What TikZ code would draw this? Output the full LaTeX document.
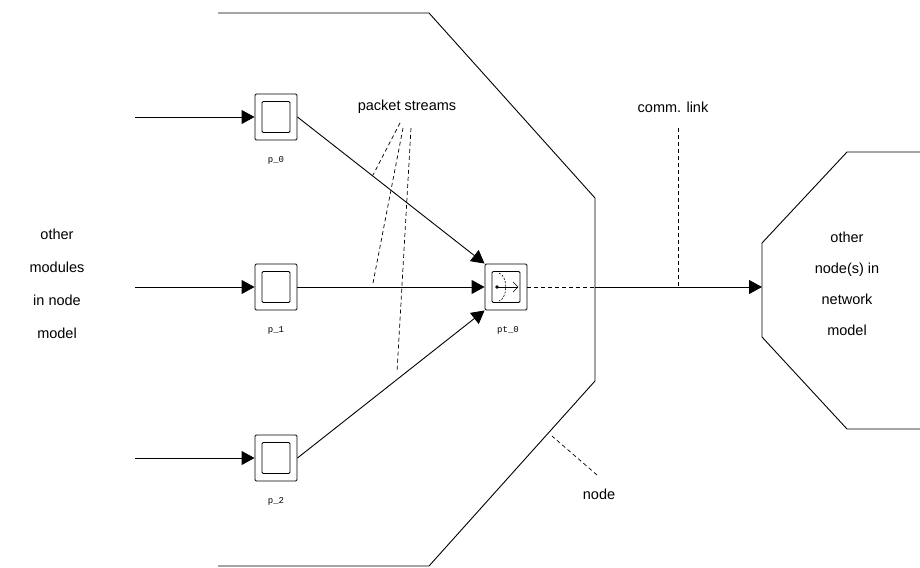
\documentclass[tikz,border=0pt]{standalone}
\usepackage{fontspec}
\setmainfont{Liberation Sans}
\setmonofont{Liberation Mono}
\usetikzlibrary{arrows.meta}
\tikzset{
  modbox/.style={draw,line width=0.9pt,rounded corners=1.2pt,minimum width=42pt,minimum height=46pt,inner sep=0pt},
  modinner/.style={draw,line width=0.9pt,rounded corners=1.2pt,minimum width=28pt,minimum height=31pt,inner sep=0pt},
  modlabel/.style={font=\ttfamily\fontsize{9}{9}\selectfont,inner sep=0pt},
  txt/.style={font=\fontsize{14.5}{14.5}\selectfont,inner sep=0pt},
  stream/.style={-{Triangle[length=13pt,width=14pt]},line width=0.9pt},
  hint/.style={dashed,dash pattern=on 4pt off 3pt,line width=0.7pt}
}
\begin{document}
\begin{tikzpicture}[x=1pt,y=-1pt]
        \useasboundingbox (0,0) rectangle (920,567);

        % node outlines
        \draw [line width=0.9pt] (218,13) -- (429,13) -- (595,198) -- (595,381) -- (429,566) -- (218,566);
        \draw [line width=0.9pt] (920,152) -- (847,152) -- (762,243) -- (762,337) -- (847,429) -- (920,429);

        % modules
        \node [modbox] (p0) at (276,117) {};
        \node [modinner] (p0in) at (276,117) {};
        \node [modbox] (p1) at (276,287) {};
        \node [modinner] (p1in) at (276,287) {};
        \node [modbox] (p2) at (276,458) {};
        \node [modinner] (p2in) at (276,458) {};
        \node [modbox] (pt0) at (506,287) {};
        \node [modinner] (pt0in) at (506,287) {};

        \node [modlabel] (p0name) at (276,160) {p\_0};
        \node [modlabel] (p1name) at (276,330) {p\_1};
        \node [modlabel] (p2name) at (276,501) {p\_2};
        \node [modlabel] (pt0name) at (508,330) {pt\_0};

        % icon in pt_0
        \fill (497,287) circle (1.8);
        \draw [line width=0.6pt] (497,287) -- (518,287);
        \draw [line width=0.6pt] (513,282) -- (518,287) -- (513,292);
        \draw [line width=0.6pt,dashed,dash pattern=on 2pt off 1.5pt] (499,273) .. controls (508,276) and (508,298) .. (499,301);

        % free ends
        \coordinate (in0) at (135,117);
        \coordinate (in1) at (135,287);
        \coordinate (in2) at (135,458);
        \coordinate (edge) at (595,287);
        \coordinate (other) at (762,287);

        \draw [stream] (in0) -- (p0);
        \draw [stream] (in1) -- (p1);
        \draw [stream] (in2) -- (p2);
        \draw [stream] (p1) -- (pt0);
        \draw [stream] (p0.east) -- (pt0.north west);
        \draw [stream] (p2.east) -- (pt0.south west);
        \draw [hint] (pt0) -- (edge);
        \draw [stream] (edge) -- (other);

        % labels
        \node [txt] (streams) at (407,107) {packet streams};
        \node [txt] (link) at (673,107) {comm. link};
        \node [txt] (nodetxt) at (599,494) {node};
        \node [txt,align=center,font=\fontsize{14.5}{33}\selectfont] (modtxt) at (57,284) {other\\modules\\in node\\model};
        \node [txt,align=center,font=\fontsize{14.5}{31}\selectfont] (nettxt) at (847,284) {other\\node(s) in\\network\\model};

        % pointers
        \coordinate (s0) at (373,175);
        \coordinate (s1) at (373,283);
        \coordinate (s2) at (397,372);
        \coordinate (linkend) at (678,287);
        \coordinate (nodeend) at (552,436);
        \draw [hint] (400,123) -- (s0);
        \draw [hint] (403,128) -- (s1);
        \draw [hint] (411,128) -- (s2);
        \draw [hint] (678,128) -- (linkend);
        \draw [hint] (597,475) -- (nodeend);
      \end{tikzpicture}
\end{document}
